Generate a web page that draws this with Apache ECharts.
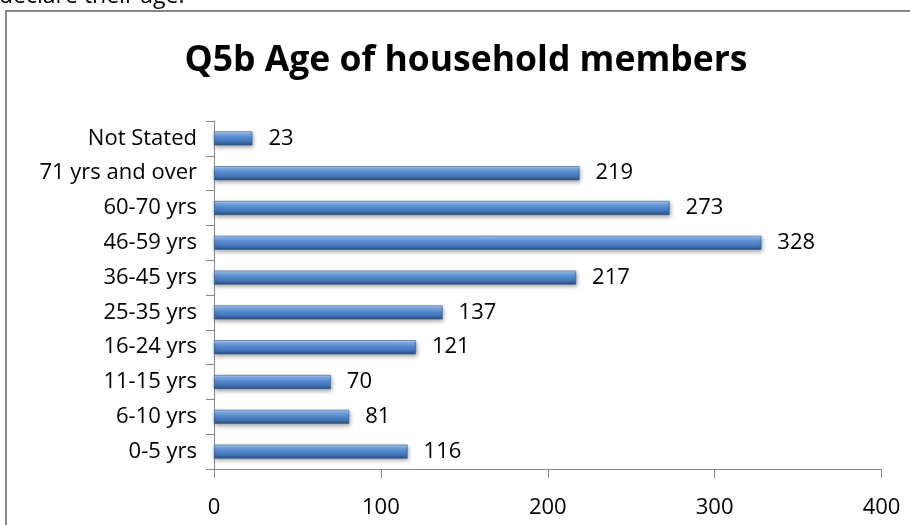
<!DOCTYPE html>
<html>
<head>
<meta charset="utf-8">
<script src="https://cdn.jsdelivr.net/npm/echarts@6/dist/echarts.min.js"></script>
<style>
  html, body { margin: 0; padding: 0; background: #ffffff; }
  #chart { width: 910px; height: 525px; }
</style>
</head>
<body>
<div id="chart"></div>
<script>
// Age bands, bottom to top as drawn on the vertical axis
var categories = ['0-5 yrs', '6-10 yrs', '11-15 yrs', '16-24 yrs', '25-35 yrs',
                  '36-45 yrs', '46-59 yrs', '60-70 yrs', '71 yrs and over', 'Not Stated'];
// Number of household members in each band
var counts = [116, 81, 70, 121, 137, 217, 328, 273, 219, 23];
// Value axis tick range
var axisMin = 0;
var axisMax = 400;
var axisStep = 100;

var FONT = '"Open Sans", "Liberation Sans", sans-serif';

var chart = echarts.init(document.getElementById('chart'), null, { renderer: 'canvas' });

var barGradient = new echarts.graphic.LinearGradient(0, 0, 0, 1, [
  { offset: 0.00, color: '#bcd4f2' },
  { offset: 0.18, color: '#7eabe5' },
  { offset: 0.45, color: '#548bd0' },
  { offset: 0.75, color: '#4273b2' },
  { offset: 1.00, color: '#284b7e' }
]);

chart.setOption({
  backgroundColor: '#ffffff',
  animation: false,
  graphic: [
    {
      type: 'text',
      left: -1,
      top: -15,
      style: { text: 'declare their age.', font: '23px ' + FONT, fill: '#000000' }
    },
    {
      type: 'rect',
      shape: { x: 6, y: 11, width: 930, height: 540 },
      style: { fill: 'none', stroke: '#878787', lineWidth: 2 },
      z: 10
    },
    {
      type: 'text',
      x: 466,
      y: 61,
      style: {
        text: 'Q5b Age of household members',
        font: 'bold 35.5px ' + FONT,
        fill: '#000000',
        align: 'center',
        verticalAlign: 'middle'
      }
    }
  ],
  grid: { left: 214, right: 28.5, top: 121, bottom: 56 },
  xAxis: {
    type: 'value',
    min: axisMin,
    max: axisMax,
    interval: axisStep,
    splitLine: { show: false },
    axisLine: { show: true, lineStyle: { color: '#878787', width: 1 } },
    axisTick: { show: true, length: 9, lineStyle: { color: '#878787' } },
    axisLabel: { margin: 28, fontFamily: FONT, fontSize: 22, color: '#000000' }
  },
  yAxis: {
    type: 'category',
    data: categories,
    axisLine: { show: true, lineStyle: { color: '#878787', width: 1 } },
    axisTick: { show: true, length: 8, lineStyle: { color: '#878787' } },
    axisLabel: { margin: 17, fontFamily: FONT, fontSize: 22, color: '#000000' }
  },
  series: [{
    type: 'bar',
    data: counts,
    barWidth: 14,
    itemStyle: {
      color: barGradient,
      borderColor: '#2f5a94',
      borderWidth: 0.6,
      shadowColor: 'rgba(0,0,0,0.35)',
      shadowBlur: 4,
      shadowOffsetX: 1,
      shadowOffsetY: 2
    },
    label: {
      show: true,
      position: 'right',
      distance: 16,
      fontFamily: FONT,
      fontSize: 22,
      color: '#000000'
    }
  }]
});
</script>
</body>
</html>
